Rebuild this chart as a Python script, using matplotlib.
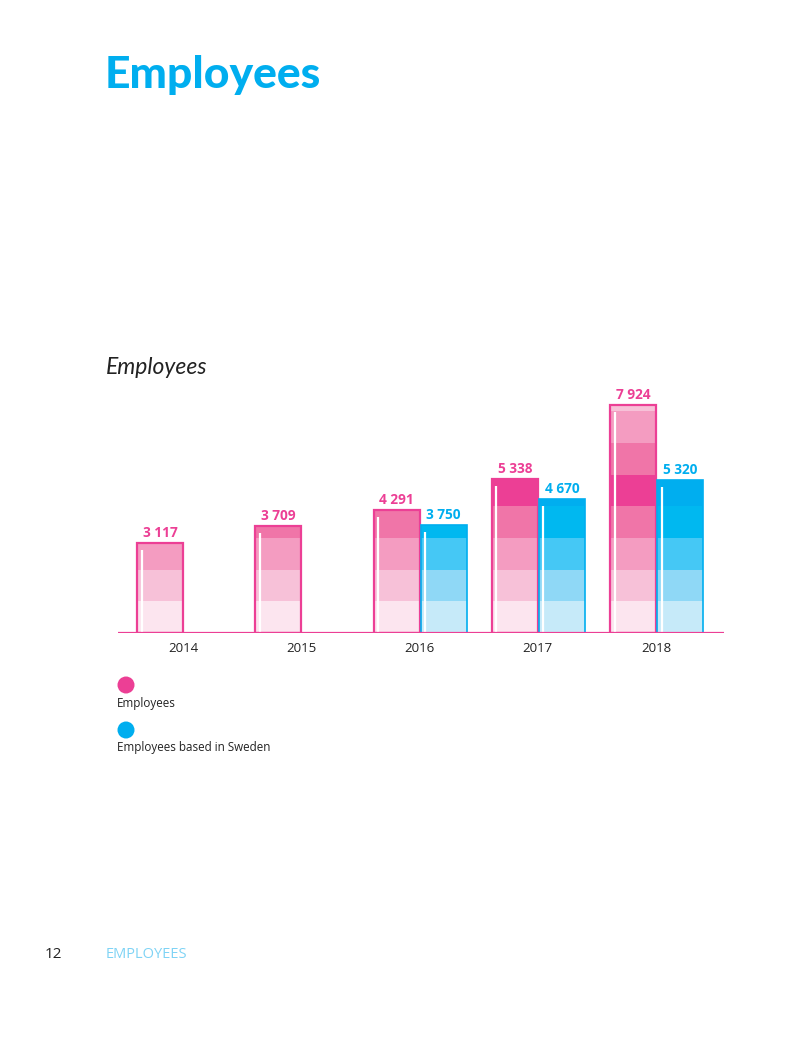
import matplotlib
matplotlib.use("Agg")
import matplotlib.pyplot as plt
from matplotlib.patches import Ellipse
import numpy as np

# ---------------- data ----------------
years = ["2014", "2015", "2016", "2017", "2018"]
employees = [3117, 3709, 4291, 5338, 7924]
employees_sweden = [None, None, 3750, 4670, 5320]
employee_labels = ["3 117", "3 709", "4 291", "5 338", "7 924"]
sweden_labels = [None, None, "3 750", "4 670", "5 320"]
series_names = ["Employees", "Employees based in Sweden"]

# ---------------- style ----------------
PINK = "#ec3f95"
BLUE = "#00aeef"
pink_bands = ["#fce5ef", "#f7c1d8", "#f49cc1", "#f075a8", "#ec3f95", "#f075a8", "#f49cc1", "#f7c1d8"]
blue_bands = ["#c6eaf9", "#8fd8f6", "#45c8f5", "#00b8f0", "#00aeef", "#00b8f0", "#45c8f5", "#8fd8f6"]
BAND = 1100

W, H = 800, 1052
fig = plt.figure(figsize=(W / 100, H / 100), dpi=100)

def fx(px):
    return px / W

def fy(py):
    return 1 - py / H

# axes placement in pixels
ax_left, ax_right = 118, 724
ax_base, px_per_unit = 633, 0.028773
ymax = 8800
ax_top = ax_base - ymax * px_per_unit
ax = fig.add_axes([fx(ax_left), fy(ax_base), (ax_right - ax_left) / W, (ax_base - ax_top) / H])
group_px = 118.3
xmin = -(183 - ax_left) / group_px
xmax = (ax_right - 183) / group_px
ax.set_xlim(xmin, xmax)
ax.set_ylim(0, ymax)
ax.axis("off")

bw = 46 / group_px
x = np.arange(len(years))


def draw_bar(xc, val, bands, edge, lw):
    b = 0
    i = 0
    while b < val:
        h = min(BAND, val - b)
        ax.bar(xc, h, bottom=b, width=bw, color=bands[i % len(bands)], linewidth=0, zorder=2)
        b += BAND
        i += 1
    ax.bar(xc, val, width=bw, fill=False, edgecolor=edge, linewidth=lw, zorder=3)
    # white highlight line
    hx = xc - bw / 2 + 4.5 / group_px
    ax.plot([hx, hx], [0, val - 7 / px_per_unit], color="white", lw=1.6, zorder=4,
            solid_capstyle="butt")


for i in range(len(years)):
    xp = x[i] - bw / 2
    draw_bar(xp, employees[i], pink_bands, PINK, 1.6)
    ax.text(xp, employees[i] + 3 / px_per_unit, employee_labels[i], ha="center", va="bottom",
            color=PINK, fontsize=9.8, fontweight="bold", family="Open Sans")
    if employees_sweden[i] is not None:
        xb = x[i] + bw / 2 + 1 / group_px
        draw_bar(xb, employees_sweden[i], blue_bands, BLUE, 1.2)
        ax.text(xb, employees_sweden[i] + 3 / px_per_unit, sweden_labels[i], ha="center",
                va="bottom", color=BLUE, fontsize=9.8, fontweight="bold", family="Open Sans")
    ax.text(x[i], -15 / px_per_unit, years[i], ha="center", va="center", color="#222222",
            fontsize=9.5, family="Open Sans")

ax.axhline(0, color=PINK, lw=1.6, zorder=5)

# ---------------- texts ----------------
fig.text(fx(105), fy(75), "Employees", color=BLUE, fontsize=32, fontweight="black",
         family="Lato", ha="left", va="center")
fig.text(fx(106), fy(367), "Employees", color="#222222", fontsize=16.5, fontstyle="italic",
         fontweight="normal", family="Lato", ha="left", va="center")

# legend
for cy, ty, col, name in [(685, 703, PINK, series_names[0]), (730, 748, BLUE, series_names[1])]:
    fig.patches.append(Ellipse((fx(126), fy(cy)), 17 / W, 17 / H, transform=fig.transFigure,
                               facecolor=col, edgecolor="none"))
    fig.text(fx(117), fy(ty), name, color="#222222", fontsize=8.4, family="Open Sans",
             ha="left", va="center")

# footer
fig.text(fx(45), fy(954), "12", color="#222222", fontsize=11, family="Open Sans",
         ha="left", va="center")
fig.text(fx(106), fy(954), "EMPLOYEES", color="#7fd3f5", fontsize=10.5, family="Open Sans",
         ha="left", va="center")

fig.savefig("out.png", dpi=100)
